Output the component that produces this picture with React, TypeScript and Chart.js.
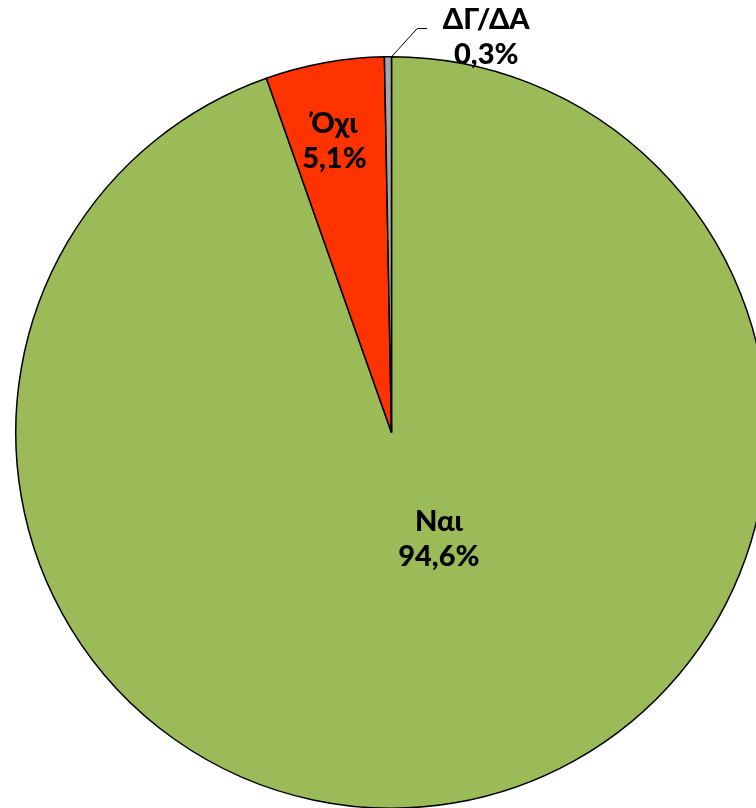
import React, { useEffect, useRef } from "react";
import { Chart, registerables } from "chart.js";

Chart.register(...registerables);

const categories = ["Ναι", "Όχι", "ΔΓ/ΔΑ"];
const values = [94.6, 5.1, 0.3];
const valueLabels = ["94,6%", "5,1%", "0,3%"];
const colors = ["#9BBB59", "#FF3300", "#A6A6A6"];

// label anchor offsets in units of the pie radius, relative to the pie centre
const labelOffsets: [number, number][] = [
  [0.126, 0.282],
  [-0.152, -0.776],
  [0.252, -1.054],
];

const FONT = "900 29px Lato, 'DejaVu Sans', sans-serif";

const labelPlugin = {
  id: "pieLabels",
  afterDatasetsDraw(chart: any) {
    const meta = chart.getDatasetMeta(0);
    const ctx = chart.ctx as CanvasRenderingContext2D;
    ctx.save();
    ctx.font = FONT;
    ctx.fillStyle = "#000";
    ctx.textAlign = "center";
    ctx.textBaseline = "alphabetic";
    meta.data.forEach((arc: any, i: number) => {
      const r = arc.outerRadius;
      const cx = arc.x + labelOffsets[i][0] * r;
      const cy = arc.y + labelOffsets[i][1] * r;
      ctx.fillText(categories[i], cx, cy - 7.5);
      ctx.fillText(valueLabels[i], cx, cy + 27.5);
      if (i === 2) {
        // leader line from slice edge to the label
        const sx = arc.x + Math.cos(arc.endAngle) * r;
        const sy = arc.y + Math.sin(arc.endAngle) * r;
        const ex = cx - 0.157 * r;
        const ey = cy - 0.021 * r;
        ctx.beginPath();
        ctx.strokeStyle = "#000";
        ctx.lineWidth = 1;
        ctx.moveTo(sx, sy);
        ctx.lineTo(ex - 10, ey);
        ctx.lineTo(ex, ey);
        ctx.stroke();
      }
    });
    ctx.restore();
  },
};

export default function App() {
  const ref = useRef<HTMLCanvasElement>(null);
  useEffect(() => {
    if (!ref.current) return;
    const chart = new Chart(ref.current, {
      type: "pie",
      data: {
        labels: categories,
        datasets: [
          {
            data: values,
            backgroundColor: colors,
            borderColor: "#000",
            borderWidth: 1.5,
          },
        ],
      },
      options: {
        animation: false,
        responsive: false,
        devicePixelRatio: 1,
        layout: { padding: { left: 15, top: 56, right: 0, bottom: 0 } },
        plugins: {
          legend: { display: false },
          tooltip: { enabled: false },
        },
      },
      plugins: [labelPlugin],
    });
    return () => chart.destroy();
  }, []);
  return (
    <div
      style={{
        position: "fixed",
        left: 0,
        top: 0,
        width: 756,
        height: 808,
        overflow: "hidden",
        background: "#fff",
      }}
    >
      <canvas
        ref={ref}
        width={768}
        height={809}
        style={{ position: "absolute", left: 0, top: 0, width: 768, height: 809 }}
      />
    </div>
  );
}
